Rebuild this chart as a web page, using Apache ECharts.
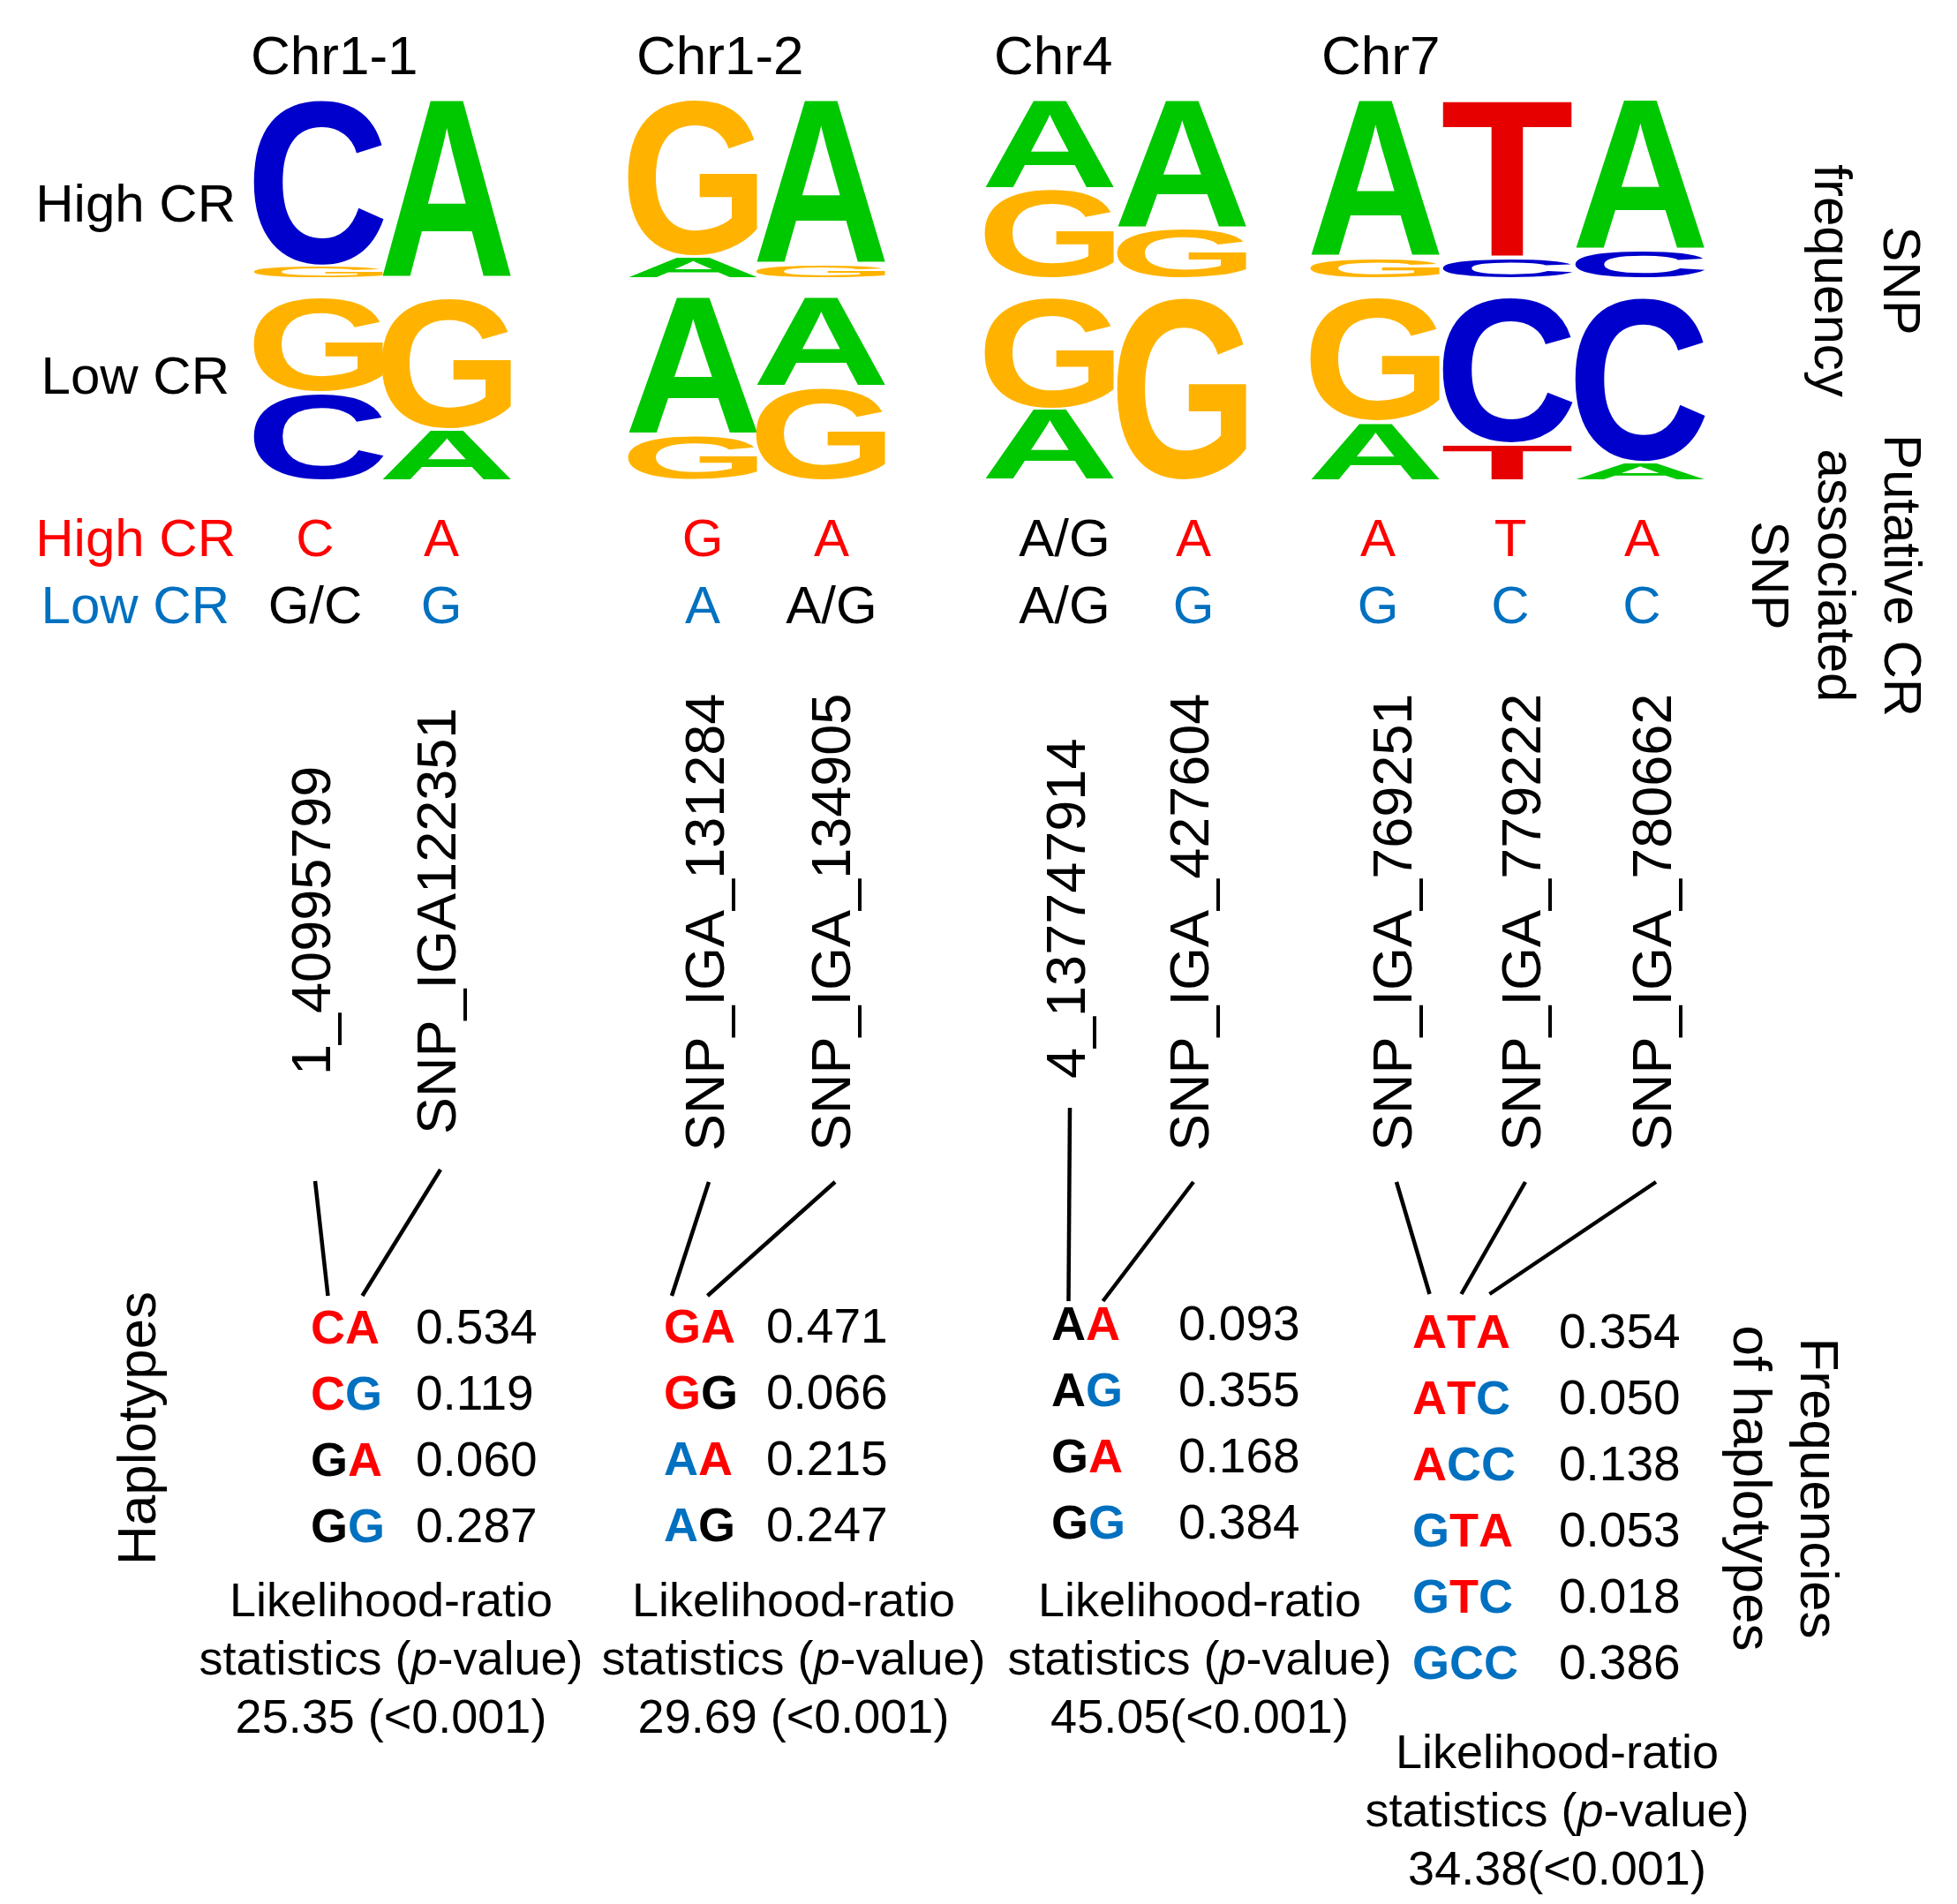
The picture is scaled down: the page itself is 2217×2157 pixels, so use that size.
<!DOCTYPE html>
<html>
<head>
<meta charset="utf-8">
<script src="https://cdn.jsdelivr.net/npm/echarts@6/dist/echarts.min.js"></script>
<style>html,body{margin:0;padding:0;background:#fff}#c{width:2217px;height:2157px}</style>
</head>
<body>
<div id="c"></div>
<script>
// ================= DATA =================
const groups = ['Chr1-1', 'Chr1-2', 'Chr4', 'Chr7'];
const snpNames = ['1_40995799', 'SNP_IGA122351', 'SNP_IGA_131284', 'SNP_IGA_134905',
  '4_137747914', 'SNP_IGA_427604', 'SNP_IGA_769251', 'SNP_IGA_779222', 'SNP_IGA_780662'];
const snpGroup = [0, 0, 1, 1, 2, 2, 3, 3, 3];
const highAllele = ['C', 'A', 'G', 'A', 'A/G', 'A', 'A', 'T', 'A'];
const lowAllele = ['G/C', 'G', 'A', 'A/G', 'A/G', 'G', 'G', 'C', 'C'];
// SNP frequency logos, letters listed top to bottom with their frequency
const highLogo = [
  [['C', 0.93], ['G', 0.07]],
  [['A', 1.00]],
  [['G', 0.88], ['A', 0.12]],
  [['A', 0.92], ['G', 0.08]],
  [['A', 0.50], ['G', 0.50]],
  [['A', 0.72], ['G', 0.28]],
  [['A', 0.88], ['G', 0.12]],
  [['T', 0.88], ['C', 0.12]],
  [['A', 0.84], ['C', 0.16]]
];
const lowLogo = [
  [['G', 0.52], ['C', 0.48]],
  [['G', 0.72], ['A', 0.28]],
  [['A', 0.75], ['G', 0.25]],
  [['A', 0.49], ['G', 0.51]],
  [['G', 0.61], ['A', 0.39]],
  [['G', 1.00]],
  [['G', 0.68], ['A', 0.32]],
  [['C', 0.80], ['T', 0.20]],
  [['C', 0.90], ['A', 0.10]]
];
const haplotypes = [
  ['CA', 'CG', 'GA', 'GG'],
  ['GA', 'GG', 'AA', 'AG'],
  ['AA', 'AG', 'GA', 'GG'],
  ['ATA', 'ATC', 'ACC', 'GTA', 'GTC', 'GCC']
];
const hapFreq = [
  [0.534, 0.119, 0.060, 0.287],
  [0.471, 0.066, 0.215, 0.247],
  [0.093, 0.355, 0.168, 0.384],
  [0.354, 0.050, 0.138, 0.053, 0.018, 0.386]
];
const lrStat = ['25.35 (<0.001)', '29.69 (<0.001)', '45.05(<0.001)', '34.38(<0.001)'];

// ================= LAYOUT (pixels) =================
const W = 2217, H = 2157;
const FAMILY = '"Liberation Sans", Arial, Helvetica, sans-serif';
const RED = '#ff0000', BLUE = '#0070c0', BLACK = '#000000';
const letterColor = { A: '#00c800', C: '#0000cc', G: '#ffb300', T: '#e60000' };
const colX = [361, 506, 785, 930, 1189, 1339, 1558, 1708, 1858];
const colW = 147;
const letterGap = 3;
const titleX = [284, 721, 1126, 1497], titleY = 67;
const alleleX = [357, 500, 796, 942, 1206, 1352, 1561, 1711, 1860];
const alleleY = [613, 689];
const snpX = [357, 499, 803, 946, 1212, 1352, 1582, 1728, 1876];
const snpBottom = [1218, 1285, 1304, 1304, 1222, 1304, 1304, 1304, 1304];
const lineTop = [1338, 1325, 1339, 1339, 1255, 1339, 1339, 1339, 1339];
const lineBottom = [1468, 1468, 1474, 1466];
const lineShift = [0, -12, 0, 0];
const hapX = [352, 752, 1191, 1600];
const valX = [471, 868, 1335, 1766];
const hapY0 = [1507, 1506, 1503, 1512];
const hapStep = 75;
const lrX = [443, 899, 1359, 1764];
const lrY0 = [1816, 1816, 1816, 1988];
const lrStep = 66;

// ================= HELPERS =================
const mctx = document.createElement('canvas').getContext('2d');
const LOGO_FS = 200;
const glyphCache = {};
function glyphBox(ch) {
  if (glyphCache[ch]) return glyphCache[ch];
  mctx.font = 'bold ' + LOGO_FS + 'px ' + FAMILY;
  mctx.textBaseline = 'middle';
  mctx.textAlign = 'left';
  const m = mctx.measureText(ch);
  return (glyphCache[ch] = {
    l: m.actualBoundingBoxLeft, r: m.actualBoundingBoxRight,
    a: m.actualBoundingBoxAscent, d: m.actualBoundingBoxDescent
  });
}
function textWidth(str, font) { mctx.font = font; return mctx.measureText(str).width; }

const groupSnps = groups.map((g, gi) => snpNames.map((s, i) => i).filter(i => snpGroup[i] === gi));
function alleleKey(snpIdx, ch) {
  if (highAllele[snpIdx] === ch) return 'r';
  if (lowAllele[snpIdx] === ch) return 'b';
  return 'k';
}
const HAP_FS = 54, VAL_FS = 55, TXT_FS = 60, SNP_FS = 63, LR_FS = 54;
const hapFont = 'bold ' + HAP_FS + 'px ' + FAMILY;
function hapRich() {
  const base = { fontSize: HAP_FS, fontWeight: 'bold', fontFamily: FAMILY };
  return { r: Object.assign({ fill: RED }, base), b: Object.assign({ fill: BLUE }, base), k: Object.assign({ fill: BLACK }, base) };
}
function txt(x, y, text, opt) {
  return {
    type: 'text', x: x, y: y,
    style: Object.assign({
      text: text, fontSize: TXT_FS, fontFamily: FAMILY, fill: BLACK,
      align: 'left', verticalAlign: 'middle', textAlign: 'left', textVerticalAlign: 'middle'
    }, opt || {})
  };
}
function aligned(style, a) { style.align = a; style.textAlign = a; return style; }

function logoRender(logo) {
  return function (params, api) {
    const i = api.value(2);
    const children = [];
    let top = 1;
    logo[i].forEach(function (item) {
      const ch = item[0], f = item[1];
      const p0 = api.coord([colX[i] - colW / 2, top]);
      const p1 = api.coord([colX[i] + colW / 2, top - f]);
      top -= f;
      const L = p0[0], T = p0[1];
      const w = p1[0] - p0[0];
      const h = Math.max(1, p1[1] - p0[1] - letterGap);
      const g = glyphBox(ch);
      const sx = w / (g.l + g.r), sy = h / (g.a + g.d);
      children.push({
        type: 'text', x: L + sx * g.l, y: T + sy * g.a, scaleX: sx, scaleY: sy,
        style: {
          text: ch, fontSize: LOGO_FS, fontWeight: 'bold', fontFamily: FAMILY,
          fill: letterColor[ch], align: 'left', verticalAlign: 'middle',
          textAlign: 'left', textVerticalAlign: 'middle'
        }
      });
    });
    return { type: 'group', children: children };
  };
}

// ================= SERIES =================
const series = [];
series.push({
  type: 'custom', xAxisIndex: 0, yAxisIndex: 0, silent: true,
  data: colX.map((x, i) => [x, 0.5, i]), renderItem: logoRender(highLogo)
});
series.push({
  type: 'custom', xAxisIndex: 1, yAxisIndex: 1, silent: true,
  data: colX.map((x, i) => [x, 0.5, i]), renderItem: logoRender(lowLogo)
});
// chromosome titles
series.push({
  type: 'custom', xAxisIndex: 2, yAxisIndex: 2, silent: true,
  data: groups.map((g, i) => [titleX[i], titleY, i]),
  renderItem: function (params, api) {
    const i = api.value(2), p = api.coord([api.value(0), api.value(1)]);
    return txt(p[0], p[1], groups[i], { fontSize: 62 });
  }
});
// putative alleles
series.push({
  type: 'custom', xAxisIndex: 2, yAxisIndex: 2, silent: true,
  data: snpNames.map((s, i) => [alleleX[i], alleleY[0], i]),
  renderItem: function (params, api) {
    const i = api.value(2);
    const p0 = api.coord([alleleX[i], alleleY[0]]);
    const p1 = api.coord([alleleX[i], alleleY[1]]);
    const hi = highAllele[i], lo = lowAllele[i];
    return {
      type: 'group', children: [
        txt(p0[0], p0[1], hi, aligned({ fill: hi.indexOf('/') >= 0 ? BLACK : RED }, 'center')),
        txt(p1[0], p1[1], lo, aligned({ fill: lo.indexOf('/') >= 0 ? BLACK : BLUE }, 'center'))
      ]
    };
  }
});
// SNP names (rotated)
series.push({
  type: 'custom', xAxisIndex: 2, yAxisIndex: 2, silent: true,
  data: snpNames.map((s, i) => [snpX[i], snpBottom[i], i]),
  renderItem: function (params, api) {
    const i = api.value(2), p = api.coord([api.value(0), api.value(1)]);
    const t = txt(p[0], p[1], snpNames[i], { fontSize: SNP_FS });
    t.rotation = Math.PI / 2;
    return t;
  }
});
// connectors
series.push({
  type: 'custom', xAxisIndex: 2, yAxisIndex: 2, silent: true,
  data: snpNames.map((s, i) => [snpX[i], lineTop[i], i]),
  renderItem: function (params, api) {
    const i = api.value(2), g = snpGroup[i];
    const k = groupSnps[g].indexOf(i);
    const hap = haplotypes[g][0];
    const before = textWidth(hap.slice(0, k), hapFont);
    const wk = textWidth(hap[k], hapFont);
    const p0 = api.coord([snpX[i], lineTop[i]]);
    const p1 = api.coord([hapX[g] + before + wk / 2 + lineShift[g], lineBottom[g]]);
    return {
      type: 'line', shape: { x1: p0[0], y1: p0[1], x2: p1[0], y2: p1[1] },
      style: { stroke: BLACK, lineWidth: 4.5, lineCap: 'butt' }
    };
  }
});
// haplotype tables
series.push({
  type: 'custom', xAxisIndex: 2, yAxisIndex: 2, silent: true,
  data: groups.map((g, i) => [hapX[i], hapY0[i], i]),
  renderItem: function (params, api) {
    const g = api.value(2);
    const children = [];
    haplotypes[g].forEach(function (hap, r) {
      const y = hapY0[g] + r * hapStep;
      const pa = api.coord([hapX[g], y]);
      const pb = api.coord([valX[g], y]);
      const rt = hap.split('').map((ch, k) => '{' + alleleKey(groupSnps[g][k], ch) + '|' + ch + '}').join('');
      children.push(txt(pa[0], pa[1], rt, { fontSize: HAP_FS, fontWeight: 'bold', rich: hapRich() }));
      children.push(txt(pb[0], pb[1], hapFreq[g][r].toFixed(3), { fontSize: VAL_FS }));
    });
    return { type: 'group', children: children };
  }
});
// likelihood-ratio statistics
series.push({
  type: 'custom', xAxisIndex: 2, yAxisIndex: 2, silent: true,
  data: groups.map((g, i) => [lrX[i], lrY0[i], i]),
  renderItem: function (params, api) {
    const g = api.value(2);
    const base = { fontSize: LR_FS, fontFamily: FAMILY, fill: BLACK };
    const lines = [
      { text: 'Likelihood-ratio' },
      { text: '{n|statistics (}{i|p}{n|-value)}', rich: { n: Object.assign({}, base), i: Object.assign({ fontStyle: 'italic' }, base) } },
      { text: lrStat[g] }
    ];
    return {
      type: 'group', children: lines.map(function (l, r) {
        const p = api.coord([lrX[g], lrY0[g] + r * lrStep]);
        const st = aligned({ fontSize: LR_FS }, 'center');
        if (l.rich) st.rich = l.rich;
        return txt(p[0], p[1], l.text, st);
      })
    };
  }
});

// ================= STATIC LABELS =================
function gtext(x, y, text, opt, rot) {
  const e = txt(x, y, text, opt);
  if (rot) e.rotation = rot;
  return e;
}
const graphic = [
  gtext(267, 234, 'High CR', aligned({}, 'right')),
  gtext(260, 429, 'Low CR', aligned({}, 'right')),
  gtext(267, 613, 'High CR', aligned({ fill: RED }, 'right')),
  gtext(260, 689, 'Low CR', aligned({ fill: BLUE }, 'right')),
  gtext(159, 1618, 'Haplotypes', aligned({ fontSize: 62 }, 'center'), Math.PI / 2),
  gtext(2112, 318, 'SNP\nfrequency', aligned({ lineHeight: 78 }, 'center'), -Math.PI / 2),
  gtext(2077, 652, 'Putative CR\nassociated\nSNP', aligned({ lineHeight: 75 }, 'center'), -Math.PI / 2),
  gtext(2019, 1686, 'Frequencies\nof haplotypes', aligned({ fontSize: 62, lineHeight: 76 }, 'center'), -Math.PI / 2)
];

const hiddenX = { type: 'value', min: 0, max: W, show: false };
const option = {
  animation: false,
  backgroundColor: '#ffffff',
  grid: [
    { left: 0, width: W, top: 114, height: 203 },
    { left: 0, width: W, top: 338, height: 208 },
    { left: 0, width: W, top: 0, height: H }
  ],
  xAxis: [
    Object.assign({ gridIndex: 0 }, hiddenX),
    Object.assign({ gridIndex: 1 }, hiddenX),
    Object.assign({ gridIndex: 2 }, hiddenX)
  ],
  yAxis: [
    { gridIndex: 0, type: 'value', min: 0, max: 1, show: false },
    { gridIndex: 1, type: 'value', min: 0, max: 1, show: false },
    { gridIndex: 2, type: 'value', min: 0, max: H, inverse: true, show: false }
  ],
  graphic: graphic,
  series: series
};
const chart = echarts.init(document.getElementById('c'), null, { renderer: 'canvas', width: W, height: H });
chart.setOption(option);
</script>
</body>
</html>
